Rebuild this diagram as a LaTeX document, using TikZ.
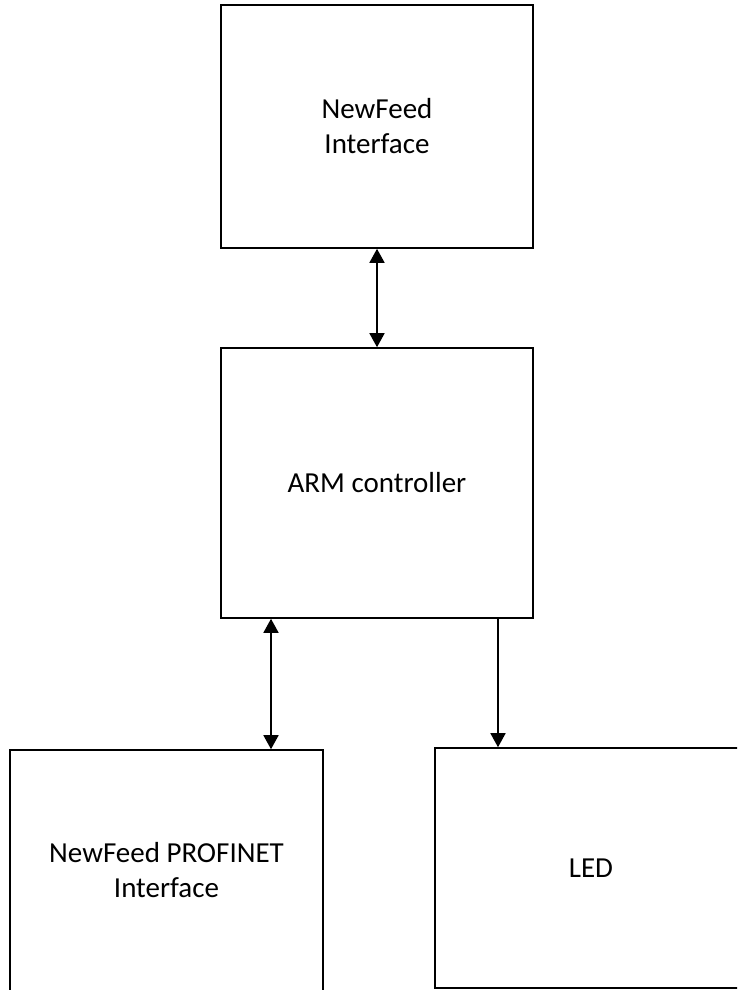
\documentclass[tikz,border=0pt]{standalone}
\usepackage{fontspec}
\setmainfont{Carlito}
\usetikzlibrary{arrows.meta}
\begin{document}
\begin{tikzpicture}[x=1pt,y=-1pt,
  block/.style={draw=black,line width=1.6pt,inner sep=0pt,align=center,
    font=\fontsize{29}{35}\selectfont},
  caption/.style={inner sep=0pt,align=center,font=\fontsize{29}{35}\selectfont},
  link/.style={line width=1.6pt,-{Triangle[length=14pt,width=15pt]}},
  biglink/.style={line width=1.6pt,{Triangle[length=14pt,width=15pt]}-{Triangle[length=14pt,width=15pt]}}]
\useasboundingbox (0,0) rectangle (737,990);
\clip (0,0) rectangle (737,990);
\fill[white] (0,0) rectangle (737,990);
\node[block,minimum width=312pt,minimum height=243pt] (nfi) at (377,126.5) {NewFeed\\Interface};
\node[block,minimum width=312pt,minimum height=270pt] (arm) at (377,483) {ARM controller};
% this box runs past the lower edge, so its caption is placed on its own
\node[block,minimum width=313pt,minimum height=250pt] (pn) at (166.5,875) {};
\node[caption] (pntext) at (166.5,870) {NewFeed PROFINET\\Interface};
\node[block,minimum width=312pt,minimum height=240pt] (led) at (591,868) {LED};
\draw[biglink] (nfi.south) -- (arm.north);
\draw[biglink] (arm.south -| 271,0) -- (pn.north -| 271,0);
\draw[link] (arm.south -| 498,0) -- (led.north -| 498,0);
\end{tikzpicture}
\end{document}
